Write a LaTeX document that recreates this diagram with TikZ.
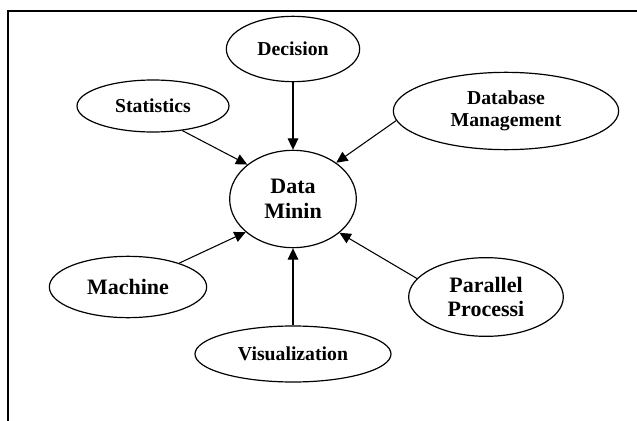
\documentclass[tikz,border=0pt]{standalone}
\usepackage{fontspec}
\setmainfont{Liberation Serif}
\usetikzlibrary{shapes.geometric,positioning,arrows.meta}

\tikzset{
  blob/.style={draw, ellipse, line width=0.9pt, inner sep=1pt, align=center,
    font=\bfseries\fontsize{14.8}{16.5}\selectfont},
  big/.style={font=\bfseries\fontsize{16.5}{18.5}\selectfont},
}

\begin{document}
\begin{tikzpicture}[x=0.75pt, y=-0.75pt,
  >={Triangle[length=8.5pt,width=8pt]}]
\useasboundingbox (0,0) rectangle (637,421);
\draw[line width=2.2pt] (8,421) -- (8,11) -- (637,11);

\node[blob, big, minimum width=95pt, minimum height=73pt] at (293,199) (dm) {Data\\Minin};
\node[blob, minimum width=100pt, minimum height=49pt] at (293,49) (dec) {Decision};
\node[blob, minimum width=114pt, minimum height=39pt] at (153,106) (stat) {Statistics};
\node[blob, minimum width=169pt, minimum height=58pt] at (506,111) (dbm) {Database\\Management};
\node[blob, big, minimum width=118pt, minimum height=46pt] at (128,287) (mach) {Machine};
\node[blob, minimum width=147pt, minimum height=42pt] at (293,354) (vis) {Visualization};
\node[blob, big, minimum width=116pt, minimum height=59pt] at (486,297) (par) {Parallel\\Processi};

\path[->, line width=0.8pt]
(dec) edge (dm)
(stat.320) edge (dm.143)
(dbm.185) edge (dm.40)
(mach.25) edge (dm.215)
(vis) edge (dm)
(par.165) edge (dm.324)
;
\end{tikzpicture}
\end{document}
